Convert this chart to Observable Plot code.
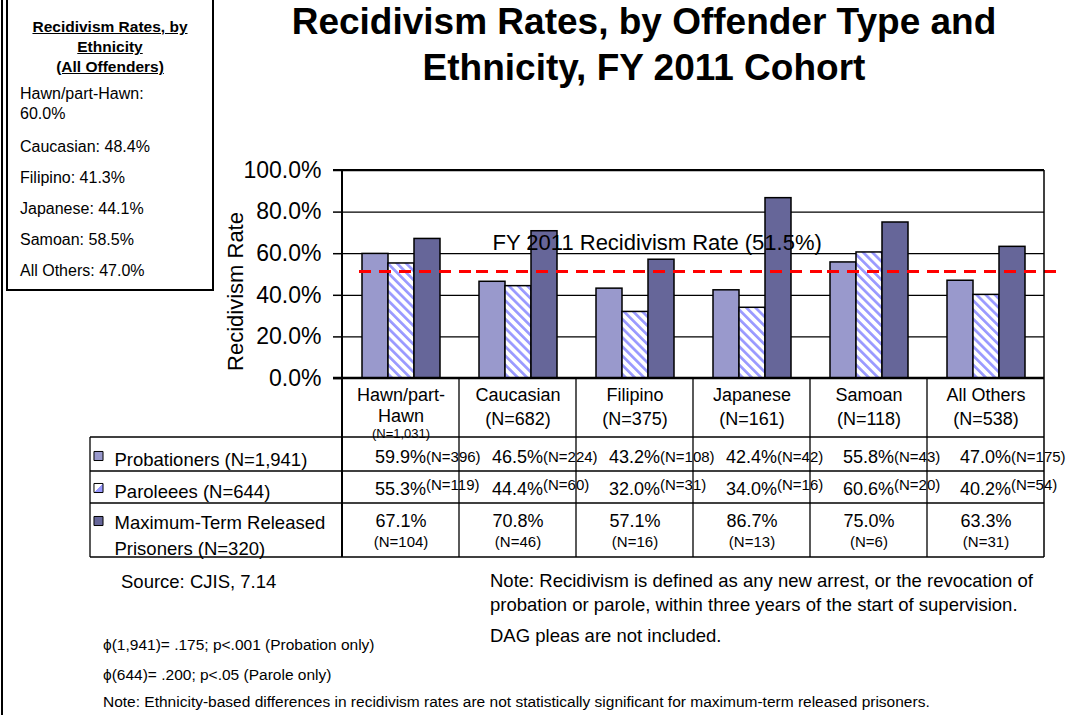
<!DOCTYPE html>
<html>
<head>
<meta charset="utf-8">
<script src="https://cdn.jsdelivr.net/npm/d3@7"></script>
<script src="https://cdn.jsdelivr.net/npm/@observablehq/plot@0.6"></script>
<style>
  html, body { margin: 0; padding: 0; background: #fff; }
  body { width: 1089px; height: 715px; position: relative; overflow: hidden;
         font-family: "Liberation Sans", Arial, Helvetica, sans-serif; color: #000; }
  #chart { position: absolute; left: 0; top: 0; }
  .abs { position: absolute; white-space: nowrap; line-height: 22px; }
  #title { position: absolute; left: 644px; top: -1px; transform: translateX(-50%);
           font-weight: bold; font-size: 37px; line-height: 46px; text-align: center; white-space: nowrap; }
  #box { position: absolute; left: 6px; top: -2px; width: 204px; height: 289px; border: 2px solid #000; background: #fff; }
  #boxTitle { position: absolute; left: 0; width: 204px; top: 17px; text-align: center; font-weight: bold;
              font-size: 15.5px; line-height: 20px; text-decoration: underline; }
  .entry { position: absolute; left: 12px; font-size: 16px; line-height: 20px; white-space: nowrap; }
  #pageBorder { position: absolute; left: 1px; top: 0; width: 2px; height: 715px; background: #000; }
</style>
</head>
<body>
<div id="chart"></div>
<div id="pageBorder"></div>
<div id="box"><div id="boxTitle"></div></div>
<div id="title"></div>
<div id="notes"></div>
<script>
// ---------------- data ----------------
const categories = ["Hawn/part-Hawn", "Caucasian", "Filipino", "Japanese", "Samoan", "All Others"];
const categoryN = ["1,031", "682", "375", "161", "118", "538"];
const overallByEthnicity = [60.0, 48.4, 41.3, 44.1, 58.5, 47.0];

const seriesNames = ["Probationers", "Paroleees", "Maximum-Term Released Prisoners"];
const seriesN = ["1,941", "644", "320"];

const probationers = [59.9, 46.5, 43.2, 42.4, 55.8, 47.0];
const probationersN = [396, 224, 108, 42, 43, 175];
const parolees = [55.3, 44.4, 32.0, 34.0, 60.6, 40.2];
const paroleesN = [119, 60, 31, 16, 20, 54];
const maxTerm = [67.1, 70.8, 57.1, 86.7, 75.0, 63.3];
const maxTermN = [104, 46, 16, 13, 6, 31];

const overallRate = 51.5;
const yTicks = [0, 20, 40, 60, 80, 100];

const titleLines = ["Recidivism Rates, by Offender Type and", "Ethnicity, FY 2011 Cohort"];
const boxTitleLines = ["Recidivism Rates, by", "Ethnicity", "(All Offenders)"];
const yLabel = "Recidivism Rate";
const sourceNote = "Source: CJIS, 7.14";
const defNote = ["Note: Recidivism is defined as any new arrest, or the revocation of",
                 "probation or parole, within three years of the start of supervision."];
const dagNote = "DAG pleas are not included.";
const phiNotes = ["\u03D5(1,941)= .175; p<.001 (Probation only)", "\u03D5(644)= .200; p<.05 (Parole only)"];
const finalNote = "Note: Ethnicity-based differences in recidivism rates are not statistically significant for maximum-term released prisoners.";

// ---------------- styles ----------------
const FONT = '"Liberation Sans", Arial, Helvetica, sans-serif';
const barFills = ["#9999CC", "url(#hatch)", "#666699"];
const legendFills = ["#9999CC", "url(#legendHatch)", "#666699"];
const pct = v => v.toFixed(1) + "%";

const valueSets = [probationers, parolees, maxTerm];
const nSets = [probationersN, paroleesN, maxTermN];
const rows = categories.flatMap((c, i) => seriesNames.map((s, k) => ({cat: c, series: s, value: valueSets[k][i], n: nSets[k][i]})));

// table layout (offsets below the x axis, px)
const rowLayout = [
  {value: 79, n: 79, label: 79, square: 77.5, valueAnchor: "end", nAnchor: "start", dx: 25},
  {value: 111, n: 107, label: 111, square: 109.5, valueAnchor: "end", nAnchor: "start", dx: 25},
  {value: 143, n: 163.5, label: 155.5, square: 142.5, valueAnchor: "middle", nAnchor: "middle", dx: 0}
];

function wrapWords(str, maxChars) {
  const words = str.split(" ");
  const lines = [];
  let cur = "";
  for (const w of words) {
    if (cur && (cur + " " + w).length > maxChars) { lines.push(cur); cur = w; }
    else cur = cur ? cur + " " + w : w;
  }
  if (cur) lines.push(cur);
  return lines.join("\n");
}
function wrapCategory(name) {
  if (name.length > 12 && name.includes("-")) {
    const k = name.indexOf("-") + 1;
    return {text: name.slice(0, k) + "\n" + name.slice(k), wrapped: true};
  }
  return {text: name, wrapped: false};
}

const header = categories.map((c, i) => {
  const w = wrapCategory(c);
  return {cat: c, wrapped: w.wrapped, text: w.wrapped ? w.text : `${c}\n(N=${categoryN[i]})`, n: `(N=${categoryN[i]})`};
});

const marks = [
  Plot.ruleY(yTicks.filter(t => t > 0), {stroke: "#000", strokeWidth: 1.3}),
  Plot.barY(rows, {fx: "cat", x: "series", y: "value", fill: "series", stroke: "#000", strokeWidth: 1.5}),
  Plot.ruleY([overallRate], {dx: 17, stroke: "#ff0000", strokeWidth: 3, strokeDasharray: "12,8"}),
  Plot.text([{cat: categories[1], v: overallRate}], {
    fx: "cat", y: "v", text: d => `FY 2011 Recidivism Rate (${pct(d.v)})`,
    frameAnchor: "left", textAnchor: "start", lineAnchor: "middle", dx: 33, dy: -28, fontSize: 22, fill: "#000"
  }),
  Plot.axisY({ticks: yTicks, tickFormat: pct, tickSize: 9, tickPadding: 12, fontSize: 23,
              label: null, strokeWidth: 1.5, stroke: "#000", fill: "#000"}),
  Plot.text([{cat: categories[0], t: yLabel}], {
    fx: "cat", text: "t", frameAnchor: "left", textAnchor: "middle", lineAnchor: "middle",
    rotate: -90, dx: -107, dy: 17, fontSize: 22, fill: "#000"
  }),
  // header row of the data table
  Plot.text(header.filter(d => !d.wrapped), {fx: "cat", text: "text", frameAnchor: "bottom", lineAnchor: "middle",
                     dy: 27, fontSize: 18, lineHeight: 1.3, fill: "#000"}),
  Plot.text(header.filter(d => d.wrapped), {fx: "cat", text: "text", frameAnchor: "bottom", lineAnchor: "middle",
                     dy: 26, fontSize: 18, lineHeight: 1.2, fill: "#000"}),
  Plot.text(header.filter(d => d.wrapped), {fx: "cat", text: "n", frameAnchor: "bottom", lineAnchor: "middle",
                     dy: 55.5, fontSize: 13, fill: "#000"})
];

// data table rows
seriesNames.forEach((s, k) => {
  const L = rowLayout[k];
  const data = rows.filter(d => d.series === s);
  marks.push(
    Plot.text(data, {fx: "cat", text: d => pct(d.value), frameAnchor: "bottom", lineAnchor: "middle",
                     textAnchor: L.valueAnchor, dx: L.dx, dy: L.value, fontSize: 18, fill: "#000"}),
    Plot.text(data, {fx: "cat", text: d => `(N=${d.n})`, frameAnchor: "bottom", lineAnchor: "middle",
                     textAnchor: L.nAnchor, dx: L.dx, dy: L.n, fontSize: 15, fill: "#000"}),
    Plot.dot([{cat: categories[0], s}], {fx: "cat", frameAnchor: "bottom-left", dx: -244, dy: L.square,
                     symbol: "square", r: 5.1, fill: legendFills[k], stroke: "#000", strokeWidth: 1}),
    Plot.text([{cat: categories[0], t: wrapWords(`${s} (N=${seriesN[k]})`, 22)}], {
      fx: "cat", text: "t", frameAnchor: "bottom-left", textAnchor: "start", lineAnchor: "middle", dx: -228, dy: L.label,
      fontSize: 18.5, lineHeight: 1.36, fill: "#000"})
  );
});

const chart = Plot.plot({
  width: 1089, height: 565,
  marginTop: 170, marginRight: 43, marginBottom: 187, marginLeft: 339,
  style: {fontFamily: FONT, color: "#000", background: "transparent", overflow: "visible"},
  fx: {domain: categories, paddingInner: 0, paddingOuter: 0, axis: null, label: null},
  x: {domain: seriesNames, paddingInner: 0, paddingOuter: 0.74, axis: null},
  y: {domain: [0, 100], axis: null},
  color: {domain: seriesNames, range: barFills},
  marks
});

// patterns
const svg = d3.select(chart);
const defs = svg.insert("defs", ":first-child");
const pat = defs.append("pattern").attr("id", "hatch").attr("patternUnits", "userSpaceOnUse")
  .attr("width", 6.5).attr("height", 6.5).attr("patternTransform", "rotate(-45)");
pat.append("rect").attr("width", 6.5).attr("height", 6.5).attr("fill", "#fff");
pat.append("rect").attr("width", 2.7).attr("height", 6.5).attr("fill", "#9999ff");
const lg = defs.append("linearGradient").attr("id", "legendHatch")
  .attr("x1", 0).attr("y1", 0).attr("x2", 1).attr("y2", 1);
lg.append("stop").attr("offset", "50%").attr("stop-color", "#fff");
lg.append("stop").attr("offset", "50%").attr("stop-color", "#9999ff");

// chart frame and data-table grid, placed from the plot's own scales
const fxS = chart.scale("fx"), yS = chart.scale("y");
const bw = fxS.bandwidth;
const lefts = categories.map(c => fxS.apply(c));
const X0 = lefts[0], X1 = lefts[lefts.length - 1] + bw;
const Y0 = yS.apply(0), Y1 = yS.apply(100);
const tableBottom = Y0 + 179, labelLeft = X0 - 252;
const g = svg.append("g").attr("stroke", "#000").attr("fill", "none");
const line = (x1, y1, x2, y2, w) => g.append("line").attr("x1", x1).attr("y1", y1).attr("x2", x2).attr("y2", y2).attr("stroke-width", w);
line(X0, Y1, X0, tableBottom, 2);
line(X1, Y1, X1, tableBottom, 1.5);
line(X0 - 9, Y1, X1, Y1, 2);
line(X0 - 9, Y0, X1, Y0, 2.5);
lefts.slice(1).forEach(x => line(x, Y0, x, tableBottom, 1.3));
[59, 93, 125, 179].forEach(off => line(labelLeft, Y0 + off, X1, Y0 + off, 1.3));
line(labelLeft, Y0 + 59, labelLeft, tableBottom, 1.3);

document.getElementById("chart").appendChild(chart);

// ---------------- HTML text ----------------
document.getElementById("title").innerHTML = titleLines.join("<br>");
document.getElementById("boxTitle").innerHTML = boxTitleLines.join("<br>");
const box = document.getElementById("box");
const entryTops = [0, 53, 84, 115, 146, 177];
categories.forEach((c, i) => {
  const label = `${c}: ${pct(overallByEthnicity[i])}`;
  const d = document.createElement("div");
  d.className = "entry";
  d.style.top = (84 + entryTops[i]) + "px";
  d.innerHTML = label.length > 18 ? `${c}:<br>${pct(overallByEthnicity[i])}` : label;
  box.appendChild(d);
});

const notes = document.getElementById("notes");
function addNote(text, left, centerY, size, lh) {
  const d = document.createElement("div");
  d.className = "abs";
  d.style.left = left + "px";
  d.style.fontSize = size + "px";
  d.style.lineHeight = (lh || 22) + "px";
  d.style.top = (centerY - (lh || 22) / 2) + "px";
  d.innerHTML = text;
  notes.appendChild(d);
}
addNote(sourceNote, 121, 582, 18.5);
addNote(defNote[0], 490, 581, 18.5);
addNote(defNote[1], 490, 605, 18.5);
addNote(dagNote, 490, 636, 18.5);
addNote(phiNotes[0].replace("<", "&lt;"), 103, 645, 15.5);
addNote(phiNotes[1].replace("<", "&lt;"), 103, 675, 15.5);
addNote(finalNote, 103, 702, 15.5);
</script>
</body>
</html>
